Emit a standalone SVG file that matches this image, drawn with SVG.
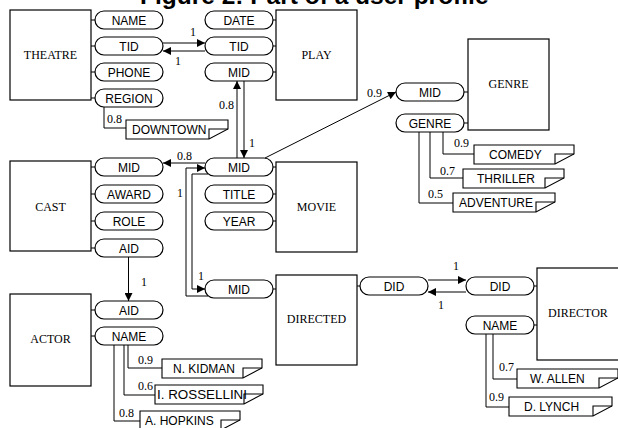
<svg xmlns="http://www.w3.org/2000/svg" width="618" height="428" viewBox="0 0 618 428">
<style>
.box{fill:#fff;stroke:#000;stroke-width:1.2}
.pill{fill:#fff;stroke:#000;stroke-width:1.2}
.tick{stroke:#000;stroke-width:1;fill:none}
.note{fill:#fff;stroke:#000;stroke-width:1.1}
.fold{fill:none;stroke:#000;stroke-width:1.1}
.ent{font-family:"Liberation Serif","Times New Roman",serif;font-size:12px;fill:#000;text-anchor:middle}
.att{font-family:"Liberation Sans",Arial,sans-serif;font-size:12px;fill:#000;text-anchor:middle}
.nt{font-family:"Liberation Sans",Arial,sans-serif;font-size:12px;fill:#000}
.lbl{font-family:"Liberation Serif","Times New Roman",serif;font-size:12px;fill:#000}
.con{stroke:#000;stroke-width:1;fill:none}
.arr{stroke:#000;stroke-width:1;fill:none;marker-end:url(#ah)}
.title{font-family:"Liberation Sans",Arial,sans-serif;font-size:24.5px;font-weight:bold;fill:#000}
</style>
<defs>
<marker id="ah" viewBox="0 0 10 10" refX="10" refY="5" markerWidth="9" markerHeight="8" markerUnits="userSpaceOnUse" orient="auto">
<path d="M0,0 L10,5 L0,10 Z" fill="#000"/>
</marker>
</defs>
<rect width="618" height="428" fill="#fff"/>
<text class="title" x="140" y="4">Figure 2: Part of a user profile</text>

<g id="theatre">
<rect class="box" x="10" y="10" width="81" height="90"/>
<text class="ent" x="50.5" y="59">THEATRE</text>
<path class="tick" d="M91,20 H95 M91,46 H95 M91,72 H95 M91,98 H95"/>
<rect class="pill" x="95" y="11" width="68" height="18" rx="9"/><text class="att" x="129" y="24.5">NAME</text>
<rect class="pill" x="95" y="37" width="68" height="18" rx="9"/><text class="att" x="129" y="50.5">TID</text>
<rect class="pill" x="95" y="63" width="68" height="18" rx="9"/><text class="att" x="129" y="76.5">PHONE</text>
<rect class="pill" x="95" y="89" width="68" height="18" rx="9"/><text class="att" x="129" y="102.5">REGION</text>
</g>

<g id="play">
<rect class="box" x="276" y="10" width="81" height="90"/>
<text class="ent" x="316.5" y="59">PLAY</text>
<path class="tick" d="M273,20 H276 M273,46 H276 M273,72 H276"/>
<rect class="pill" x="205" y="11" width="68" height="18" rx="9"/><text class="att" x="239" y="24.5">DATE</text>
<rect class="pill" x="205" y="37" width="68" height="18" rx="9"/><text class="att" x="239" y="50.5">TID</text>
<rect class="pill" x="205" y="63" width="68" height="18" rx="9"/><text class="att" x="239" y="76.5">MID</text>
</g>

<g id="genre">
<rect class="box" x="468" y="39" width="81" height="91"/>
<text class="ent" x="508.5" y="88">GENRE</text>
<path class="tick" d="M464,92 H468 M464,123 H468"/>
<rect class="pill" x="396" y="83" width="68" height="18" rx="9"/><text class="att" x="430" y="96.5">MID</text>
<rect class="pill" x="396" y="114" width="68" height="18" rx="9"/><text class="att" x="430" y="127.5">GENRE</text>
</g>

<g id="cast">
<rect class="box" x="10" y="161" width="81" height="90"/>
<text class="ent" x="50.5" y="211">CAST</text>
<path class="tick" d="M91,167 H95 M91,194 H95 M91,221 H95 M91,248 H95"/>
<rect class="pill" x="95" y="158" width="68" height="18" rx="9"/><text class="att" x="129" y="171.5">MID</text>
<rect class="pill" x="95" y="185" width="68" height="18" rx="9"/><text class="att" x="129" y="198.5">AWARD</text>
<rect class="pill" x="95" y="212" width="68" height="18" rx="9"/><text class="att" x="129" y="225.5">ROLE</text>
<rect class="pill" x="95" y="239" width="68" height="18" rx="9"/><text class="att" x="129" y="252.5">AID</text>
</g>

<g id="movie">
<rect class="box" x="276" y="162" width="81" height="90"/>
<text class="ent" x="316.5" y="211">MOVIE</text>
<path class="tick" d="M273,167 H276 M273,194 H276 M273,221 H276"/>
<rect class="pill" x="205" y="158" width="68" height="18" rx="9"/><text class="att" x="239" y="171.5">MID</text>
<rect class="pill" x="205" y="185" width="68" height="18" rx="9"/><text class="att" x="239" y="198.5">TITLE</text>
<rect class="pill" x="205" y="212" width="68" height="18" rx="9"/><text class="att" x="239" y="225.5">YEAR</text>
</g>

<g id="directed">
<rect class="box" x="276" y="275" width="81" height="90"/>
<text class="ent" x="316.5" y="323">DIRECTED</text>
<path class="tick" d="M273,289 H276 M357,286 H360"/>
<rect class="pill" x="205" y="280" width="68" height="18" rx="9"/><text class="att" x="239" y="293.5">MID</text>
<rect class="pill" x="360" y="277" width="68" height="18" rx="9"/><text class="att" x="394" y="290.5">DID</text>
</g>

<g id="director">
<rect class="box" x="537" y="268" width="83" height="92"/>
<text class="ent" x="578" y="317">DIRECTOR</text>
<path class="tick" d="M534,286 H537 M534,325 H537"/>
<rect class="pill" x="466" y="277" width="68" height="18" rx="9"/><text class="att" x="500" y="290.5">DID</text>
<rect class="pill" x="466" y="316" width="68" height="18" rx="9"/><text class="att" x="500" y="329.5">NAME</text>
</g>

<g id="actor">
<rect class="box" x="10" y="294" width="81" height="92"/>
<text class="ent" x="50.5" y="343">ACTOR</text>
<path class="tick" d="M91,310 H95 M91,336 H95"/>
<rect class="pill" x="95" y="301" width="68" height="18" rx="9"/><text class="att" x="129" y="314.5">AID</text>
<rect class="pill" x="95" y="327" width="68" height="18" rx="9"/><text class="att" x="129" y="340.5">NAME</text>
</g>

<g id="notes">
<g id="note-downtown"><path class="note" d="M126,120 H228 V129 L209,139 H126 Z"/><path class="fold" d="M209,139 V129 H228"/><text class="nt" x="132" y="134">DOWNTOWN</text></g>
<g id="note-comedy"><path class="note" d="M474,145 H574 V154 L555,164 H474 Z"/><path class="fold" d="M555,164 V154 H574"/><text class="nt" x="489" y="159">COMEDY</text></g>
<g id="note-thriller"><path class="note" d="M463,169 H564 V178 L545,188 H463 Z"/><path class="fold" d="M545,188 V178 H564"/><text class="nt" x="477" y="183">THRILLER</text></g>
<g id="note-adventure"><path class="note" d="M453,193 H555 V202 L536,212 H453 Z"/><path class="fold" d="M536,212 V202 H555"/><text class="nt" x="459" y="207">ADVENTURE</text></g>
<g id="note-kidman"><path class="note" d="M162,359 H262 V368 L243,378 H162 Z"/><path class="fold" d="M243,378 V368 H262"/><text class="nt" x="173" y="373">N. KIDMAN</text></g>
<g id="note-rossellini"><path class="note" d="M155,385 H263 V394 L244,404 H155 Z"/><path class="fold" d="M244,404 V394 H263"/><text class="nt" x="157" y="399" textLength="90" lengthAdjust="spacingAndGlyphs">I. ROSSELLINI</text></g>
<g id="note-hopkins"><path class="note" d="M140,411 H240 V420 L221,430 H140 Z"/><path class="fold" d="M221,430 V420 H240"/><text class="nt" x="145" y="425">A. HOPKINS</text></g>
<g id="note-allen"><path class="note" d="M517,369 H618 V378 L599,388 H517 Z"/><path class="fold" d="M599,388 V378 H618"/><text class="nt" x="530" y="383">W. ALLEN</text></g>
<g id="note-lynch"><path class="note" d="M509,397 H612 V406 L593,416 H509 Z"/><path class="fold" d="M593,416 V406 H612"/><text class="nt" x="524" y="411">D. LYNCH</text></g>
</g>

<g id="connectors">
<path class="arr" d="M163,43 H205"/>
<path class="arr" d="M205,51 H163"/>
<path class="arr" d="M237,158 V81"/>
<path class="arr" d="M244,81 V158"/>
<path class="arr" d="M205,163 H163"/>
<path class="arr" d="M208,296 H186 V168 H205"/>
<path class="arr" d="M208,174 H192 V289 H205"/>
<path class="arr" d="M265,158 L396,92"/>
<path class="arr" d="M128.5,257 V301"/>
<path class="arr" d="M428,280 H466"/>
<path class="arr" d="M466,292 H428"/>
<path class="con" d="M104,107 V128 H126"/>
<path class="con" d="M443,132 V154 H474"/>
<path class="con" d="M430,132 V178 H463"/>
<path class="con" d="M419,132 V203 H453"/>
<path class="con" d="M128,345 V368 H162"/>
<path class="con" d="M124,345 V395 H155"/>
<path class="con" d="M114,345 V421 H140"/>
<path class="con" d="M493,334 V379 H517"/>
<path class="con" d="M486,334 V407 H509"/>
</g>

<g id="labels">
<text class="lbl" x="190" y="36">1</text>
<text class="lbl" x="175" y="65">1</text>
<text class="lbl" x="219" y="109">0.8</text>
<text class="lbl" x="249" y="147">1</text>
<text class="lbl" x="177" y="160">0.8</text>
<text class="lbl" x="177" y="197">1</text>
<text class="lbl" x="198" y="280">1</text>
<text class="lbl" x="367" y="97">0.9</text>
<text class="lbl" x="141" y="286">1</text>
<text class="lbl" x="453" y="270">1</text>
<text class="lbl" x="438" y="309">1</text>
<text class="lbl" x="107" y="123">0.8</text>
<text class="lbl" x="454" y="147">0.9</text>
<text class="lbl" x="440" y="175">0.7</text>
<text class="lbl" x="428" y="198">0.5</text>
<text class="lbl" x="138" y="364">0.9</text>
<text class="lbl" x="138" y="390">0.6</text>
<text class="lbl" x="119" y="417">0.8</text>
<text class="lbl" x="499" y="371">0.7</text>
<text class="lbl" x="489" y="401">0.9</text>
</g>
</svg>
